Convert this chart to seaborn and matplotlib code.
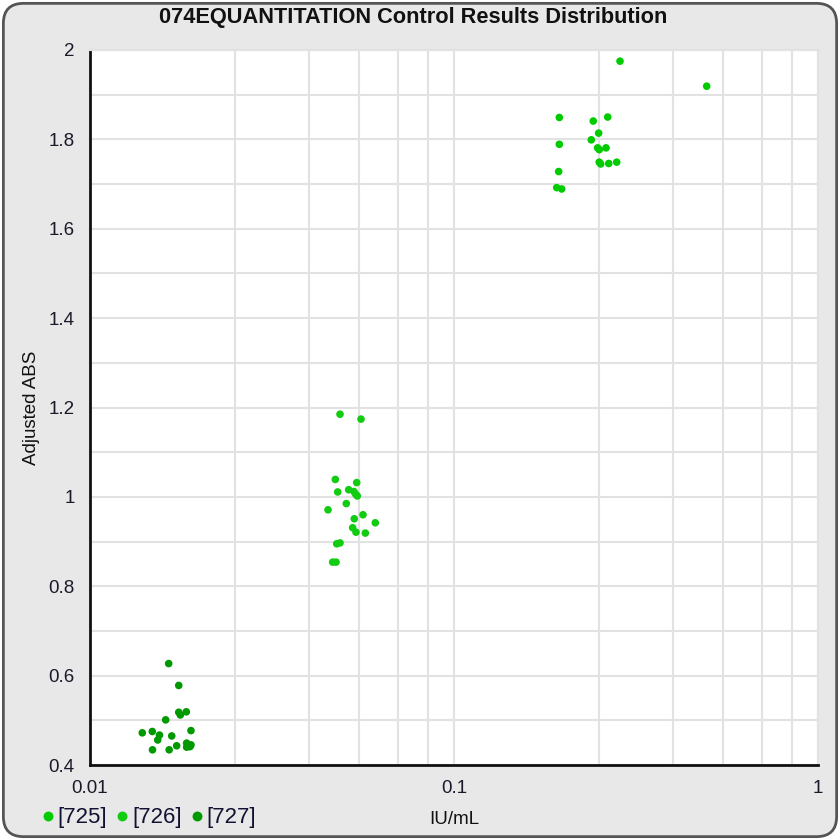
import matplotlib
matplotlib.use("Agg")
import matplotlib.pyplot as plt
import matplotlib.ticker as mticker
from matplotlib.patches import FancyBboxPatch
import seaborn as sns
import pandas as pd
import numpy as np

# ---- data ----
series_names = ["[725]", "[726]", "[727]"]
series_colors = ["#00cc00", "#11cc11", "#009900"]

x_725 = [0.2858, 0.4945, 0.1947, 0.2413, 0.2644, 0.2497, 0.2383, 0.1947, 0.2481,
         0.2506, 0.2616, 0.2506, 0.2529, 0.2661, 0.2799, 0.1939, 0.1915, 0.1976]
y_725 = [1.975, 1.919, 1.849, 1.841, 1.850, 1.814, 1.799, 1.789, 1.781,
         1.777, 1.781, 1.749, 1.745, 1.746, 1.749, 1.728, 1.692, 1.689]

x_726 = [0.04862, 0.05553, 0.04720, 0.05404, 0.04792, 0.05136, 0.05311, 0.05368,
         0.05423, 0.05059, 0.04507, 0.05321, 0.05623, 0.06078, 0.05267, 0.05379,
         0.05707, 0.04762, 0.04862, 0.04642, 0.04741]
y_726 = [1.185, 1.174, 1.039, 1.032, 1.011, 1.016, 1.012, 1.006,
         1.002, 0.985, 0.971, 0.951, 0.960, 0.942, 0.931, 0.921,
         0.919, 0.895, 0.897, 0.854, 0.854]

x_727 = [0.01645, 0.01753, 0.01753, 0.01771, 0.01839, 0.01614, 0.01392, 0.01483,
         0.01552, 0.01535, 0.01677, 0.01894, 0.01485, 0.01650, 0.01730, 0.01843,
         0.01862, 0.01894, 0.01882, 0.01843]
y_727 = [0.627, 0.578, 0.518, 0.512, 0.519, 0.501, 0.472, 0.475,
         0.467, 0.456, 0.465, 0.477, 0.434, 0.434, 0.443, 0.449,
         0.4425, 0.445, 0.441, 0.440]

title = "074EQUANTITATION Control Results Distribution"
x_label = "IU/mL"
y_label = "Adjusted ABS"
x_ticks = [0.01, 0.1, 1]
x_tick_labels = ["0.01", "0.1", "1"]
y_ticks = [0.4, 0.6, 0.8, 1.0, 1.2, 1.4, 1.6, 1.8, 2.0]
y_tick_labels = ["0.4", "0.6", "0.8", "1", "1.2", "1.4", "1.6", "1.8", "2"]
x_grid_minor = [m * d for d in (0.01, 0.1) for m in (2.5, 4, 5.5, 7, 8.5)]
y_minor = [0.5, 0.7, 0.9, 1.1, 1.3, 1.5, 1.7, 1.9]

df = pd.DataFrame({
    "x": x_725 + x_726 + x_727,
    "y": y_725 + y_726 + y_727,
    "series": [series_names[0]] * len(x_725) + [series_names[1]] * len(x_726)
              + [series_names[2]] * len(x_727),
})

sns.set_theme(style="white")
plt.rcParams["font.family"] = ["Liberation Sans", "DejaVu Sans"]

bg = "#e8e8e8"
fig = plt.figure(figsize=(8.4, 8.4), dpi=100)
fig.patch.set_facecolor("white")
frame = FancyBboxPatch((0.004, 0.004), 0.992, 0.992, boxstyle="round,pad=0,rounding_size=0.024",
                       transform=fig.transFigure, facecolor=bg, edgecolor="#555555",
                       linewidth=2, zorder=-10)
fig.patches.append(frame)

ax = fig.add_axes([90 / 840, 75 / 840, 728 / 840, 715 / 840])
ax.set_facecolor("white")

sns.scatterplot(data=df, x="x", y="y", hue="series", hue_order=series_names,
                palette=dict(zip(series_names, series_colors)), s=30, linewidth=0,
                ax=ax, zorder=3)

ax.set_xscale("log")
ax.set_xlim(0.01, 1)
ax.set_ylim(0.4, 2.0)

ax.set_xticks(x_ticks)
ax.set_xticklabels(x_tick_labels)
ax.xaxis.set_minor_locator(mticker.FixedLocator(x_grid_minor))
ax.xaxis.set_minor_formatter(mticker.NullFormatter())
ax.set_yticks(y_ticks)
ax.set_yticklabels(y_tick_labels)
ax.yaxis.set_minor_locator(mticker.FixedLocator(y_minor))

grid_c = "#e2e2e2"
ax.grid(True, which="major", color=grid_c, linewidth=1.5, zorder=0)
ax.grid(True, which="minor", color=grid_c, linewidth=1.5, zorder=0)
ax.set_axisbelow(True)

for s in ("left", "bottom"):
    ax.spines[s].set_color("#111111")
    ax.spines[s].set_linewidth(2)
for s in ("top", "right"):
    ax.spines[s].set_color(grid_c)
    ax.spines[s].set_linewidth(1.5)

tick_c = "#1a1a2a"
ax.tick_params(axis="y", which="major", direction="out", length=7, width=2,
               color="#111111", labelsize=13.5, labelcolor=tick_c, pad=4)
ax.tick_params(axis="y", which="minor", direction="inout", length=10, width=2,
               color="#111111")
ax.tick_params(axis="x", which="major", direction="inout", length=14, width=2,
               color="#111111", labelsize=13.5, labelcolor=tick_c, pad=4)
ax.tick_params(axis="x", which="minor", length=0)

ax.set_xlabel(x_label, fontsize=13.5, color="#111111", labelpad=10)
ax.set_ylabel(y_label, fontsize=13.5, color="#111111", labelpad=6)

fig.text(413 / 840, 1 - 17 / 840, title, ha="center", va="center",
         fontsize=15.7, fontweight="bold", color="#111111")

sns.move_legend(ax, "lower left", bbox_to_anchor=(22 / 840, -4 / 840),
                bbox_transform=fig.transFigure, ncol=3, title=None, frameon=False,
                fontsize=16, handletextpad=0.0, columnspacing=0.22,
                markerscale=1.3, borderpad=0.2, handlelength=0.9)
for t in ax.get_legend().get_texts():
    t.set_color("#111133")

fig.savefig("out.png", dpi=100, facecolor=fig.get_facecolor())
